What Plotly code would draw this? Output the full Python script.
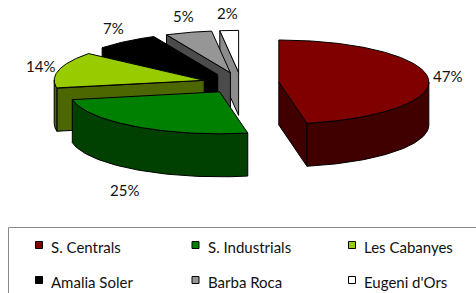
import numpy as np
import plotly.graph_objects as go

# ---- data ----
categories = ["S. Centrals", "S. Industrials", "Les Cabanyes",
              "Amalia Soler", "Barba Roca", "Eugeni d'Ors"]
values = [47, 25, 14, 7, 5, 2]

# ---- styles ----
top_colors = ["#800000", "#008000", "#99CC00", "#000000", "#969696", "#FFFFFF"]
side_colors = ["#400000", "#004000", "#4C6600", "#000000", "#4B4B4B", "#8C8C8C"]
FONT = "Lato, 'Liberation Sans', sans-serif"

W, H = 476, 293
CX, CY = 241, 83          # pie centre (pixels)
RX, RY = 150, 42          # ellipse radii of the tilted pie
DEPTH = 43                # thickness of the pie
PULL = 38                 # explosion distance (horizontal pixels)
LABEL_R = 1.13

total = float(sum(values))
fracs = [v / total for v in values]
starts = np.concatenate([[0.0], np.cumsum(fracs)[:-1]]) * 360.0
ends = starts + np.array(fracs) * 360.0

fig = go.Figure()


def poly(xs, ys, fill):
    fig.add_trace(go.Scatter(
        x=list(xs) + [xs[0]], y=list(ys) + [ys[0]], mode="lines",
        fill="toself", fillcolor=fill,
        line=dict(color="black", width=1),
        hoverinfo="skip", showlegend=False))


def rim(cx, cy, ang):
    t = np.radians(ang)
    return cx + RX * np.sin(t), cy - RY * np.cos(t)


slices = []
for i in range(len(values)):
    a, b = starts[i], ends[i]
    mid = (a + b) / 2.0
    tm = np.radians(mid)
    scx = CX + PULL * np.sin(tm)
    scy = CY - PULL * (RY / RX) * np.cos(tm)
    slices.append((i, a, b, mid, scx, scy))

# painter's order: farthest back first
order = sorted(slices, key=lambda s: -np.cos(np.radians(s[3])))

for i, a, b, mid, scx, scy in order:
    # visible radial cut faces
    for edge, vis in ((a, -np.sin(np.radians(a))), (b, np.sin(np.radians(b)))):
        if vis > 0.01:
            rx_, ry_ = rim(scx, scy, edge)
            poly([scx, rx_, rx_, scx], [scy, ry_, ry_ + DEPTH, scy + DEPTH],
                 side_colors[i])
    # outer wall (front half only)
    lo, hi = max(a, 90.0), min(b, 270.0)
    if hi > lo:
        angs = np.linspace(lo, hi, 60)
        px, py = rim(scx, scy, angs)
        xs = np.concatenate([px, px[::-1]])
        ys = np.concatenate([py, (py + DEPTH)[::-1]])
        poly(xs, ys, side_colors[i])
    # top face
    angs = np.linspace(a, b, max(int((b - a) * 2), 6))
    px, py = rim(scx, scy, angs)
    poly(np.concatenate([[scx], px]), np.concatenate([[scy], py]), top_colors[i])

    # percentage label
    c = np.cos(np.radians(mid))
    lx = scx + RX * LABEL_R * np.sin(np.radians(mid))
    ly = scy - RY * LABEL_R * c - 12 * c + (DEPTH + 6 if c < 0 else 0)
    fig.add_annotation(x=lx, y=ly, text=f"{round(values[i] / total * 100)}%",
                       showarrow=False, xanchor="center", yanchor="middle",
                       font=dict(family=FONT, size=15, color="#111111"))

# ---- legend (boxed, 3 columns x 2 rows) ----
LEG_X0, LEG_DX, LEG_Y0, LEG_DY = 39, 156.5, 245, 35
fig.add_shape(type="rect", x0=8.5, y0=227.5, x1=W + 10, y1=H + 10,
              line=dict(color="#8a8a8a", width=1), fillcolor="rgba(0,0,0,0)",
              layer="below")
for i, name in enumerate(categories):
    col, row = i % 3, i // 3
    mx = LEG_X0 + col * LEG_DX
    my = LEG_Y0 + row * LEG_DY
    fig.add_trace(go.Scatter(
        x=[mx], y=[my], mode="markers", name=name,
        marker=dict(symbol="square", size=7, color=top_colors[i],
                    line=dict(color="black", width=1)),
        hoverinfo="skip", showlegend=False))
    fig.add_annotation(x=mx + 10, y=my + 1.5, text=name, showarrow=False,
                       xanchor="left", yanchor="middle",
                       font=dict(family=FONT, size=15, color="#111111"))

fig.update_layout(
    width=W, height=H, margin=dict(l=0, r=0, t=0, b=0),
    paper_bgcolor="white", plot_bgcolor="white",
    xaxis=dict(range=[0, W], visible=False, fixedrange=True),
    yaxis=dict(range=[H, 0], visible=False, fixedrange=True),
    showlegend=False,
)

fig.write_html("out.html", config={"displayModeBar": False},
               post_script="document.body.style.margin='0';"
                           "document.body.style.overflow='hidden';")
